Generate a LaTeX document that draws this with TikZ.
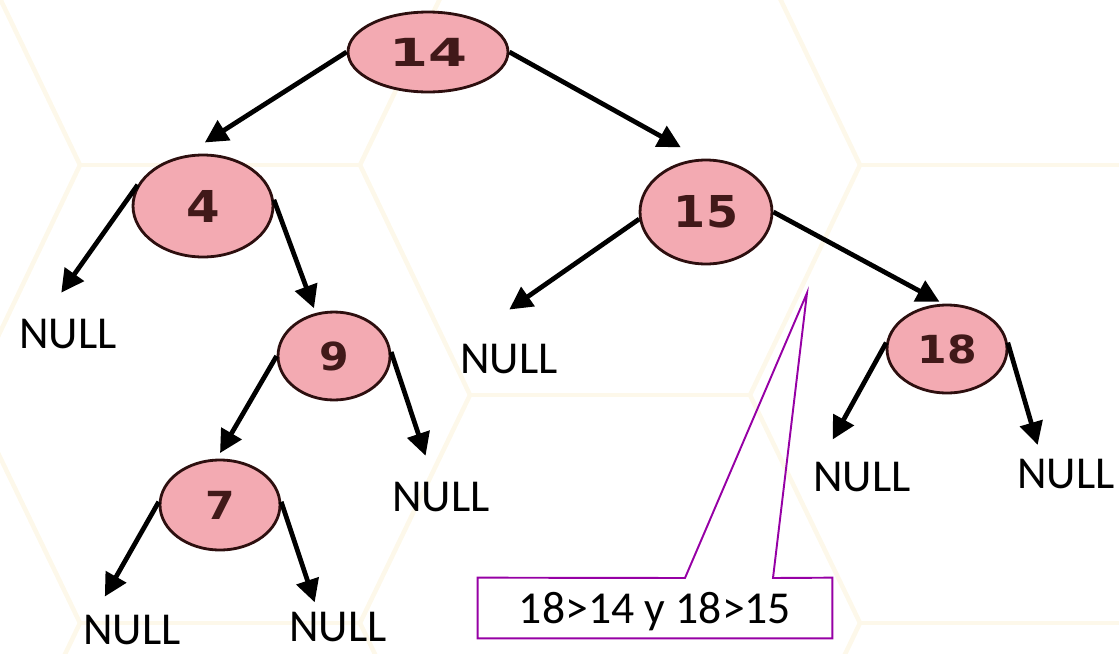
\documentclass[tikz,border=0pt]{standalone}
\usepackage{fontspec}
\setmainfont{Carlito}
\newfontfamily\keyfont{DejaVu Sans}
\usetikzlibrary{arrows.meta, shapes.geometric}

\definecolor{keyfill}{RGB}{243,170,178}
\definecolor{keyline}{RGB}{45,15,15}
\definecolor{keyink}{RGB}{65,25,25}
\definecolor{notecolor}{RGB}{150,0,165}
\definecolor{hexline}{RGB}{253,248,234}

% stretched digits inside the keys
\newcommand{\widen}[2][1.1]{\scalebox{#1}[1]{#2}}

\begin{document}
\begin{tikzpicture}[x=0.02cm, y=-0.02cm, key/.style={ellipse, draw=keyline, fill=keyfill, line width=1.6pt, inner sep=0pt, text=keyink, font=\keyfont\bfseries\fontsize{22}{26}\selectfont}, big key/.style={key, font=\keyfont\bfseries\fontsize{25}{29}\selectfont}, nullbox/.style={inner sep=0pt, font=\fontsize{26}{30}\selectfont}, link/.style={line width=2.7pt, -{Triangle[length=13pt, width=13pt]}}, note/.style={draw=notecolor, line width=1.1pt}, hex/.style={hexline, line width=2.6pt}]

    \useasboundingbox (0,0) rectangle (1119,653);

    % fondo: panal muy tenue
    \begin{scope}
        \clip (0,0) rectangle (1119,653);
        \draw[hex] (80,165) -- (360,165) (860,165) -- (1140,165) (470,395) -- (750,395);
        \draw[hex] (80,623) -- (360,623) (860,623) -- (1140,623);
        \foreach \xa/\xb in {80/-30, 360/470, 860/750}
            \draw[hex] (\xb,-64) -- (\xa,165) -- (\xb,395) -- (\xa,623) -- (\xb,852);
    \end{scope}

    % Claves del arbol
    \node[key, minimum width=3.2cm, minimum height=1.6cm] (n14) at (428,52) {\widen[1.45]{14}};
    \node[big key, minimum width=2.8cm, minimum height=2.04cm] (n4) at (203,206) {\widen{4}};
    \node[big key, minimum width=2.64cm, minimum height=2.08cm] (n15) at (706,212) {\widen[1.05]{15}};
    \node[key, minimum width=2.24cm, minimum height=1.76cm] (n9) at (334,356) {\widen{9}};
    \node[key, minimum width=2.4cm, minimum height=1.8cm] (n7) at (220,505) {\widen{7}};
    \node[key, minimum width=2.4cm, minimum height=1.76cm] (n18) at (947,349) {\widen{18}};

    % Hojas vacias
    \node[nullbox] (na) at (68,334) {NULL};
    \node[nullbox] (nb) at (509,359) {NULL};
    \node[nullbox] (nc) at (441,497) {NULL};
    \node[nullbox] (nd) at (132,630) {NULL};
    \node[nullbox] (ne) at (338,627) {NULL};
    \node[nullbox] (nf) at (862,477) {NULL};
    \node[nullbox] (ng) at (1066,474) {NULL};

    % Enlaces
    \draw[link, shorten >=0.48cm] (n14.west) -- (n4.110);
    \draw[link, shorten >=0.47cm] (n14.east) -- (n15.95);
    \draw[link, shorten >=0.64cm] (n4.162) -- (na.149);
    \draw[link, shorten >=0.1cm] (n4.5) -- (n9.113);
    \draw[link, shorten >=1.2cm] (n15.186) -- (nb.north west);
    \draw[link, shorten >=0.08cm] (n15.east) -- (n18.95);
    \draw[link, shorten >=0.13cm] (n9.180) -- (n7.94);
    \draw[link, shorten >=0.55cm] (n9.4) -- (nc.114);
    \draw[link, shorten >=0.42cm] (n7.177) -- (nd.158);
    \draw[link, shorten >=0.2cm] (n7.3) -- (ne.143);
    \draw[link, shorten >=0.51cm] (n18.174) -- (nf.160);
    \draw[link, shorten >=0.29cm] (n18.6) -- (ng.148);

    % Nota con la comparacion
    \node[font=\fontsize{26}{30}\selectfont, text depth=0pt, minimum width=7.08cm, minimum height=1.2cm, inner sep=0pt] (cmp) at (655,608) {18>14 y 18>15};
    \coordinate (tip) at (807,293);
    \coordinate (pa) at (685,578);
    \coordinate (pb) at (773,578);
    \draw[note] (cmp.north west) -- (pa) -- (tip) -- (pb) -- (cmp.north east) -- (cmp.south east) -- (cmp.south west) -- cycle;

\end{tikzpicture}
\end{document}
